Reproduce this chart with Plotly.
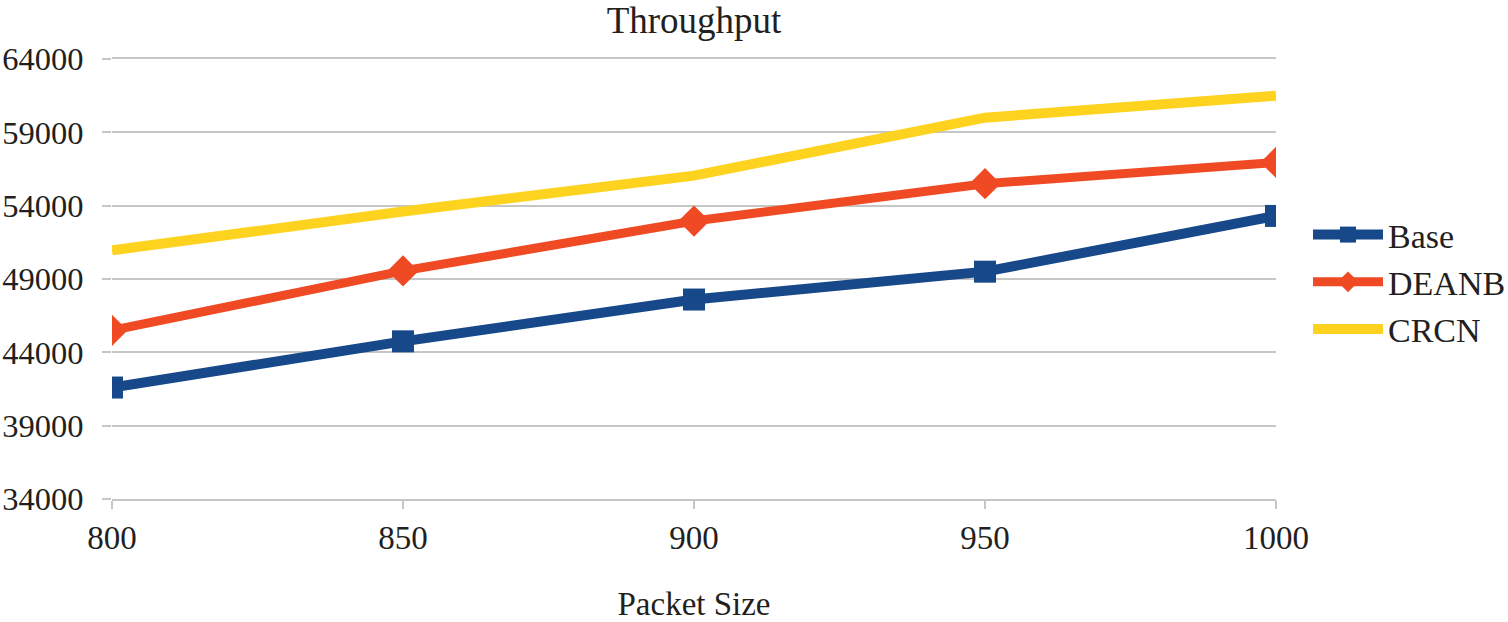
import plotly.graph_objects as go

packet_size = [800, 850, 900, 950, 1000]
base = [41600, 44750, 47600, 49500, 53300]
deanb = [45500, 49550, 52950, 55500, 56950]
crcn = [50950, 53600, 56050, 60000, 61500]

y_ticks = [34000, 39000, 44000, 49000, 54000, 59000, 64000]
x_ticks = [800, 850, 900, 950, 1000]

FONT = "Liberation Serif"
TXT = "#231f20"
GRID = "#c6c6c6"

W, H = 1508, 622
L, R, T, B = 112, 232, 59, 123

fig = go.Figure()
fig.add_trace(go.Scatter(
    x=packet_size, y=base, name="Base", mode="lines+markers",
    line=dict(color="#17488a", width=10),
    marker=dict(symbol="square", size=22, color="#17488a"),
))
fig.add_trace(go.Scatter(
    x=packet_size, y=deanb, name="DEANB", mode="lines+markers",
    line=dict(color="#f04a24", width=9),
    marker=dict(symbol="diamond", size=24, color="#f04a24"),
))
fig.add_trace(go.Scatter(
    x=packet_size, y=crcn, name="CRCN", mode="lines",
    line=dict(color="#fdd320", width=10),
))

fig.update_layout(
    width=W, height=H,
    margin=dict(l=L, r=R, t=T, b=B, autoexpand=False),
    paper_bgcolor="white", plot_bgcolor="white",
    font=dict(family=FONT, size=33, color=TXT),
    title=dict(text="Throughput", x=(L + W - R) / 2 / W, xanchor="center",
               y=1 - 20 / H, yanchor="middle", font=dict(size=37, family=FONT, color=TXT)),
    showlegend=True,
    legend=dict(x=1.0275, xanchor="left", y=0.4932, yanchor="middle",
                font=dict(size=34, family=FONT, color=TXT),
                itemwidth=70, tracegroupgap=0, bgcolor="rgba(0,0,0,0)"),
    xaxis=dict(
        range=[800, 1000], tickvals=x_ticks, ticktext=[str(v) for v in x_ticks],
        showgrid=False, showline=True, linecolor=GRID, linewidth=1.5, mirror=True,
        ticks="outside", ticklen=8, tickcolor=GRID, tickwidth=1.5,
        ticklabelstandoff=1, zeroline=False, automargin=False,
        title=dict(text="Packet Size", standoff=37, font=dict(size=33, family=FONT, color=TXT)),
    ),
    yaxis=dict(
        range=[34000, 64000], tickvals=y_ticks, ticktext=[str(v) for v in y_ticks],
        showgrid=True, gridcolor=GRID, gridwidth=1.5, showline=False,
        ticks="outside", ticklen=9, tickcolor=GRID, tickwidth=1.5,
        ticklabelstandoff=12, zeroline=False, automargin=False,
        tickfont=dict(size=32.5, family=FONT, color=TXT),
    ),
)

fig.write_html(
    "out.html",
    config={"displayModeBar": False},
    post_script="document.body.style.margin='0';document.body.style.overflow='hidden';",
)
